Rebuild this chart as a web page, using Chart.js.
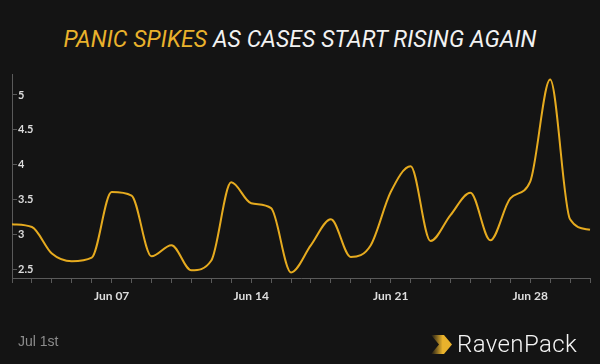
<!DOCTYPE html>
<html>
<head>
<meta charset="utf-8">
<script src="https://cdn.jsdelivr.net/npm/chart.js@4.4.1/dist/chart.umd.min.js"></script>
<style>
  body { margin: 0; background: #141414; }
  #wrap { position: relative; width: 600px; height: 364px; background: #141414; overflow: hidden; }
  #chart { position: absolute; left: 0; top: 0; }
  #title { position: absolute; left: 0; top: 26px; width: 600px; text-align: center; line-height: 23px;
           font: italic 23px Roboto, sans-serif; color: #f2f2f2; letter-spacing: 0.1px; }
  #title span { color: #e9b22c; }
  #date { position: absolute; left: 18px; top: 333px; font: 14px "Liberation Sans Narrow", sans-serif; color: #8c8c8c; }
  #logo { position: absolute; left: 428px; top: 330px; width: 170px; height: 30px; }
  #logo span { position: absolute; left: 29px; top: 0px; font: 300 24px Roboto, sans-serif; color: #f4f4f4; letter-spacing: 0.4px; }
</style>
</head>
<body>
<div id="wrap">
  <div id="title"><span>PANIC SPIKES</span> AS CASES START RISING AGAIN</div>
  <canvas id="chart" width="600" height="364"></canvas>
  <div id="date">Jul 1st</div>
  <div id="logo">
    <svg width="28" height="30" style="position:absolute;left:0;top:3px">
      <defs>
        <linearGradient id="fade" x1="0" x2="1" y1="0" y2="0">
          <stop offset="0" stop-color="#e9b22c" stop-opacity="0"/>
          <stop offset="0.55" stop-color="#e9b22c" stop-opacity="1"/>
        </linearGradient>
      </defs>
      <polygon points="3,2 16,2 24,11.5 16,21 3,21 11,11.5" fill="url(#fade)"/>
    </svg>
    <span>RavenPack</span>
  </div>
</div>
<script>
// Daten
const days = ['Jun 02', 'Jun 03', 'Jun 04', 'Jun 05', 'Jun 06', 'Jun 07', 'Jun 08', 'Jun 09', 'Jun 10', 'Jun 11',
  'Jun 12', 'Jun 13', 'Jun 14', 'Jun 15', 'Jun 16', 'Jun 17', 'Jun 18', 'Jun 19', 'Jun 20', 'Jun 21',
  'Jun 22', 'Jun 23', 'Jun 24', 'Jun 25', 'Jun 26', 'Jun 27', 'Jun 28', 'Jun 29', 'Jun 30', 'Jul 01'];
const panic = [3.15, 3.11, 2.73, 2.62, 2.67, 3.61, 3.56, 2.69, 2.85, 2.49,
  2.63, 3.75, 3.45, 3.38, 2.46, 2.85, 3.22, 2.68, 2.85, 3.61,
  3.98, 2.91, 3.28, 3.6, 2.92, 3.52, 3.76, 5.22, 3.22, 3.07];
const shownDays = ['Jun 07', 'Jun 14', 'Jun 21', 'Jun 28'];
const yTicks = [2.5, 3, 3.5, 4, 4.5, 5];

const ctx = document.getElementById('chart').getContext('2d');

const config = {
  type: 'line',
  data: {
    labels: days,
    datasets: [{
      data: panic,
      borderColor: '#e6ab1f',
      borderWidth: 2,
      pointRadius: 0,
      cubicInterpolationMode: 'monotone',
      fill: false
    }]
  },
  options: {
    responsive: false,
    animation: false,
    events: [],
    plugins: {
      legend: { display: false },
      tooltip: { enabled: false }
    },
    layout: {
      padding: { top: 74, left: 12, right: 10, bottom: 56 }
    },
    scales: {
      x: {
        offset: false,
        grid: { drawOnChartArea: false, color: '#5a5a5a', tickLength: 5 },
        border: { color: '#5a5a5a', width: 1 },
        ticks: {
          autoSkip: false,
          maxRotation: 0,
          padding: 6,
          color: '#dddddd',
          font: { family: 'Lato', size: 12, weight: 'bold' },
          callback: function(value, index) {
            return shownDays.includes(days[index]) ? days[index] : '';
          }
        },
        afterFit: function(s) { s.height = 30; }
      },
      y: {
        min: 2.38,
        max: 5.3,
        grid: { drawOnChartArea: false, color: '#5a5a5a', tickLength: -5 },
        border: { color: '#5a5a5a', width: 1 },
        ticks: {
          stepSize: 0.5,
          includeBounds: false,
          mirror: true,
          padding: 6,
          color: '#dddddd',
          font: { family: 'Lato', size: 11, weight: 'bold' },
          callback: function(value) {
            return yTicks.includes(+value.toFixed(1)) ? String(+value.toFixed(1)) : '';
          }
        },
        afterFit: function(s) { s.width = 0; }
      }
    }
  }
};

const myChart = new Chart(ctx, config);
</script>
</body>
</html>
